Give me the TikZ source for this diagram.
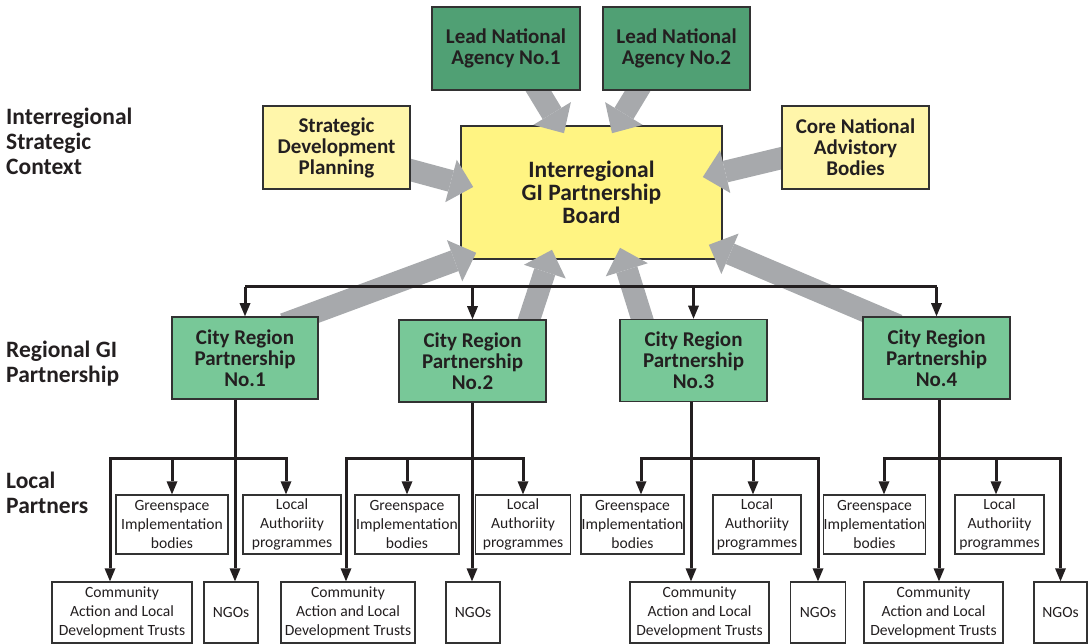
\documentclass[tikz,border=0pt]{standalone}
\usepackage{fontspec}
\setmainfont{Carlito}
\usetikzlibrary{arrows.meta}
\definecolor{leadgreen}{RGB}{80,160,116}
\definecolor{citygreen}{RGB}{120,200,152}
\definecolor{boardyellow}{RGB}{255,244,130}
\definecolor{paleyellow}{RGB}{255,246,170}
\definecolor{flowgrey}{RGB}{167,169,172}
\definecolor{inkblack}{RGB}{35,31,32}
\definecolor{boxline}{RGB}{50,50,50}
\newcommand{\bigbold}{\fontsize{23.5}{23}\selectfont\bfseries}
\newcommand{\midbold}{\fontsize{21}{21}\selectfont\bfseries}
\newcommand{\smallreg}{\fontsize{15.6}{19}\selectfont}
\newcommand{\labelbold}{\fontsize{23.5}{25}\selectfont\bfseries}
\pgfdeclarelayer{bg}
\pgfdeclarelayer{mid}
\pgfsetlayers{bg,mid,main}
\tikzstyle{rowlabel}=[anchor=north west,inner sep=0pt,align=left,text=inkblack,font=\labelbold]
\tikzstyle{topbox}=[draw=boxline,line width=1.6pt,inner sep=0pt,align=center,text=inkblack,font=\midbold,minimum width=147pt,minimum height=83pt]
\tikzstyle{leadbox}=[topbox,fill=leadgreen]
\tikzstyle{contextbox}=[topbox,fill=paleyellow]
\tikzstyle{citybox}=[topbox,fill=citygreen,minimum height=82pt]
\tikzstyle{boardbox}=[topbox,fill=boardyellow,font=\bigbold,minimum width=261pt,minimum height=133pt]
\tikzstyle{partner}=[draw=boxline,line width=1.4pt,fill=white,inner sep=0pt,align=center,text=inkblack,font=\smallreg,minimum height=59pt]
\tikzstyle{lowpartner}=[partner,minimum height=61pt]
\tikzstyle{flow}=[draw=flowgrey,line width=22pt,-{Triangle[width=44pt,length=23pt,line width=0pt]}]
\tikzstyle{bus}=[draw=inkblack,line width=3pt]
\tikzstyle{link}=[bus,-{Triangle[width=11pt,length=13pt,line width=0pt]}]

\begin{document}
\begin{tikzpicture}[x=1pt,y=-1pt]
  \useasboundingbox (0,0) rectangle (1092,644);

  % row titles
  \node[rowlabel] (ctxlabel) at (6,108) {Interregional\\Strategic\\Context};
  \node[rowlabel] (reglabel) at (6,341) {Regional GI\\Partnership};
  \node[rowlabel] (loclabel) at (6,472) {Local\\Partners};

  % interregional level
  \begin{pgfonlayer}{bg}
    \node[boardbox] (board) at (591.5,192.5) {Interregional\\GI Partnership\\Board};
  \end{pgfonlayer}
  \node[leadbox,minimum width=148pt] (lead1) at (506,48.5) {Lead National\\Agency No.1};
  \node[leadbox] (lead2) at (676.5,48.5) {Lead National\\Agency No.2};
  \node[contextbox] (sdp) at (336.5,147.5) {Strategic\\Development\\Planning};
  \node[contextbox] (cnab) at (855.5,147.5) {Core National\\Advistory\\Bodies};

  % city regions
  \node[citybox,minimum width=146pt] (crp1) at (245,358) {City Region\\Partnership\\No.1};
  \node[citybox] (crp2) at (472.5,361) {City Region\\Partnership\\No.2};
  \node[citybox] (crp3) at (693.5,360.5) {City Region\\Partnership\\No.3};
  \node[citybox] (crp4) at (936.5,358) {City Region\\Partnership\\No.4};

  % local partners
  \node[partner,minimum width=112pt] (gsp1) at (172,524.5) {Greenspace\\Implementation\\bodies};
  \node[partner,minimum width=98pt] (lap1) at (292,524.5) {Local\\Authoriity\\programmes};
  \node[lowpartner,minimum width=140pt] (catr1) at (122,612.5) {Community\\Action and Local\\Development Trusts};
  \node[lowpartner,minimum width=54pt] (ngo1) at (231,612.5) {NGOs};

  \node[partner,minimum width=104pt] (gsp2) at (407,524.5) {Greenspace\\Implementation\\bodies};
  \node[partner,minimum width=95pt] (lap2) at (523,524.5) {Local\\Authoriity\\programmes};
  \node[lowpartner,minimum width=134pt] (catr2) at (348,612.5) {Community\\Action and Local\\Development Trusts};
  \node[lowpartner,minimum width=54pt] (ngo2) at (473,612.5) {NGOs};

  \node[partner,minimum width=103pt] (gsp3) at (632.5,524.5) {Greenspace\\Implementation\\bodies};
  \node[partner,minimum width=88pt] (lap3) at (757,524.5) {Local\\Authoriity\\programmes};
  \node[lowpartner,minimum width=139pt] (catr3) at (699.5,612.5) {Community\\Action and Local\\Development Trusts};
  \node[lowpartner,minimum width=55pt] (ngo3) at (818,612.5) {NGOs};

  \node[partner,minimum width=101pt] (gsp4) at (874.5,524.5) {Greenspace\\Implementation\\bodies};
  \node[partner,minimum width=89pt] (lap4) at (999.5,524.5) {Local\\Authoriity\\programmes};
  \node[lowpartner,minimum width=139pt] (catr4) at (933.5,612.5) {Community\\Action and Local\\Development Trusts};
  \node[lowpartner,minimum width=53pt] (ngo4) at (1060.5,612.5) {NGOs};

  % grey flows into the board
  \begin{pgfonlayer}{mid}
    \draw[flow] ([xshift=22pt,yshift=17pt]lead1.south) -- ([xshift=-27.5pt,yshift=-8pt]board.north);
    \draw[flow] ([xshift=-28.5pt,yshift=17pt]lead2.south) -- ([xshift=20.5pt,yshift=-8pt]board.north);
    \draw[flow] ([xshift=-19pt,yshift=-17.5pt]sdp.east) -- ([xshift=13pt,yshift=5.5pt]board.west);
    \draw[flow] ([xshift=19.5pt,yshift=-6pt]cnab.west) -- ([xshift=-20pt,yshift=15.5pt]board.east);
    \draw[flow] ([xshift=39pt,yshift=34pt]crp1.center) -- ([xshift=16pt,yshift=7pt]board.south west);
    \draw[flow] ([xshift=50.5pt,yshift=-19pt]crp2.north) -- ([xshift=-39.5pt,yshift=10pt]board.south);
    \draw[flow] ([xshift=-45.5pt,yshift=-19pt]crp3.north) -- ([xshift=28.5pt,yshift=12pt]board.south);
    \draw[flow] ([xshift=-38.5pt,yshift=-9pt]crp4.north) -- ([xshift=-14pt,yshift=15pt]board.south east);
  \end{pgfonlayer}

  % regional distribution line
  \coordinate (topbus) at (245,287);
  \draw[bus] (crp1.north |- topbus) -- (crp4.north |- topbus);
  \foreach \c in {crp1,crp2,crp3,crp4}
    \draw[link] (\c.north |- topbus) -- (\c.north);

  % local distribution lines
  \coordinate (j1) at (235,458);
  \coordinate (j2) at (472,458);
  \coordinate (j3) at (691,458);
  \coordinate (j4) at (939,458);

  \draw[link] (crp1.south -| j1) -- (ngo1.north -| j1);
  \draw[link] (j1) -| ([xshift=-12pt]catr1.north);
  \draw[link] (j1) -| (gsp1.north);
  \draw[link] (j1) -| ([xshift=-6pt]lap1.north);

  \draw[link] (crp2.south -| j2) -- (ngo2.north -| j2);
  \draw[link] (j2) -| ([xshift=-2pt]catr2.north);
  \draw[link] (j2) -| (gsp2.north);
  \draw[link] (j2) -| (lap2.north);

  \draw[link] (crp3.south -| j3) -- (catr3.north -| j3);
  \draw[link] (j3) -| ([xshift=8.5pt]gsp3.north);
  \draw[link] (j3) -| ([xshift=-4pt]lap3.north);
  \draw[link] (j3) -| (ngo3.north);

  \draw[link] (crp4.south -| j4) -- (catr4.north -| j4);
  \draw[link] (j4) -| ([xshift=9.5pt]gsp4.north);
  \draw[link] (j4) -| ([xshift=-3.5pt]lap4.north);
  \draw[link] (j4) -| (ngo4.north);
\end{tikzpicture}
\end{document}
